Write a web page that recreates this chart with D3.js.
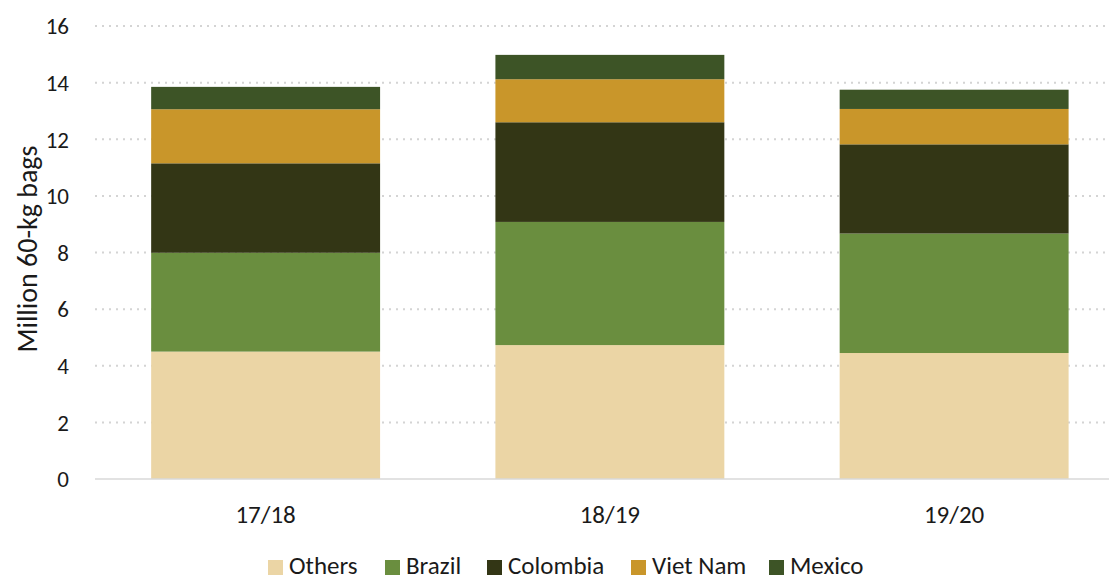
<!DOCTYPE html>
<html>
<head>
<meta charset="utf-8">
<script src="https://cdn.jsdelivr.net/npm/d3@7"></script>
<style>
    body { margin: 0; background: #fff; }
    text { font-family: "Carlito", "Noto Sans", sans-serif; fill: #1a1a1a; }
</style>
</head>
<body>
<svg id="drawing_region"></svg>
<script>
// crop years
const years = ['17/18', '18/19', '19/20'];
// series (bottom to top)
const series = ['Others', 'Brazil', 'Colombia', 'Viet Nam', 'Mexico'];
const others   = [4.50, 4.73, 4.45];
const brazil   = [3.49, 4.35, 4.22];
const colombia = [3.16, 3.52, 3.15];
const vietnam  = [1.91, 1.52, 1.25];
const mexico   = [0.79, 0.86, 0.68];
const colors = ['#ebd5a5', '#6a8e3f', '#333615', '#c9962a', '#3d5426'];
const yTicks = [0, 2, 4, 6, 8, 10, 12, 14, 16];

const data = years.map((y, i) => ({
    year: y,
    'Others': others[i],
    'Brazil': brazil[i],
    'Colombia': colombia[i],
    'Viet Nam': vietnam[i],
    'Mexico': mexico[i]
}));

const width = 1113, height = 576;
const margin = { top: 26, bottom: 97, left: 93.5 };

const svg = d3.select('#drawing_region')
    .attr('width', width)
    .attr('height', height);

const x = d3.scaleBand()
    .domain(years)
    .range([margin.left, margin.left + 3 * 344.25])
    .paddingInner(0.335)
    .paddingOuter(0.1675);

const y = d3.scaleLinear()
    .domain([0, 16])
    .range([height - margin.bottom, margin.top]);

// gridlines
svg.append('g')
    .selectAll('line')
    .data(yTicks.filter(d => d > 0))
    .enter()
    .append('line')
    .attr('x1', 95)
    .attr('x2', width - 4)
    .attr('y1', d => y(d))
    .attr('y2', d => y(d))
    .attr('stroke', '#d4d4d4')
    .attr('stroke-width', 2)
    .attr('stroke-dasharray', '2,5');

// stacked bars
const stack = d3.stack().keys(series);
const layers = stack(data);

svg.append('g')
    .selectAll('g')
    .data(layers)
    .enter()
    .append('g')
    .attr('fill', (d, i) => colors[i])
    .selectAll('rect')
    .data(d => d)
    .enter()
    .append('rect')
    .attr('x', d => x(d.data.year))
    .attr('width', x.bandwidth())
    .attr('y', d => y(d[1]))
    .attr('height', d => y(d[0]) - y(d[1]));

// baseline
svg.append('line')
    .attr('x1', 95)
    .attr('x2', width - 4)
    .attr('y1', y(0))
    .attr('y2', y(0))
    .attr('stroke', '#d9d9d9')
    .attr('stroke-width', 1.5);

// y tick labels
svg.append('g')
    .selectAll('text')
    .data(yTicks)
    .enter()
    .append('text')
    .attr('x', 69)
    .attr('y', d => y(d))
    .attr('dy', '0.36em')
    .attr('text-anchor', 'end')
    .style('font-size', '23px')
    .text(d => d);

// x labels
svg.append('g')
    .selectAll('text')
    .data(years)
    .enter()
    .append('text')
    .attr('x', d => x(d) + x.bandwidth() / 2)
    .attr('y', 523)
    .attr('text-anchor', 'middle')
    .style('font-size', '25px')
    .text(d => d);

// y axis title
svg.append('text')
    .attr('transform', 'translate(37, 249) rotate(-90)')
    .attr('text-anchor', 'middle')
    .style('font-size', '28px')
    .text('Million 60-kg bags');

// legend
const legendX = [268, 385, 487, 631, 769];
const legend = svg.append('g')
    .selectAll('g')
    .data(series)
    .enter()
    .append('g')
    .attr('transform', (d, i) => `translate(${legendX[i]}, 567)`);

legend.append('rect')
    .attr('x', 0)
    .attr('y', -7)
    .attr('width', 15)
    .attr('height', 15)
    .attr('fill', (d, i) => colors[i]);

legend.append('text')
    .attr('x', 21)
    .attr('y', 574)
    .attr('y', 7)
    .style('font-size', '25px')
    .text(d => d);
</script>
</body>
</html>
